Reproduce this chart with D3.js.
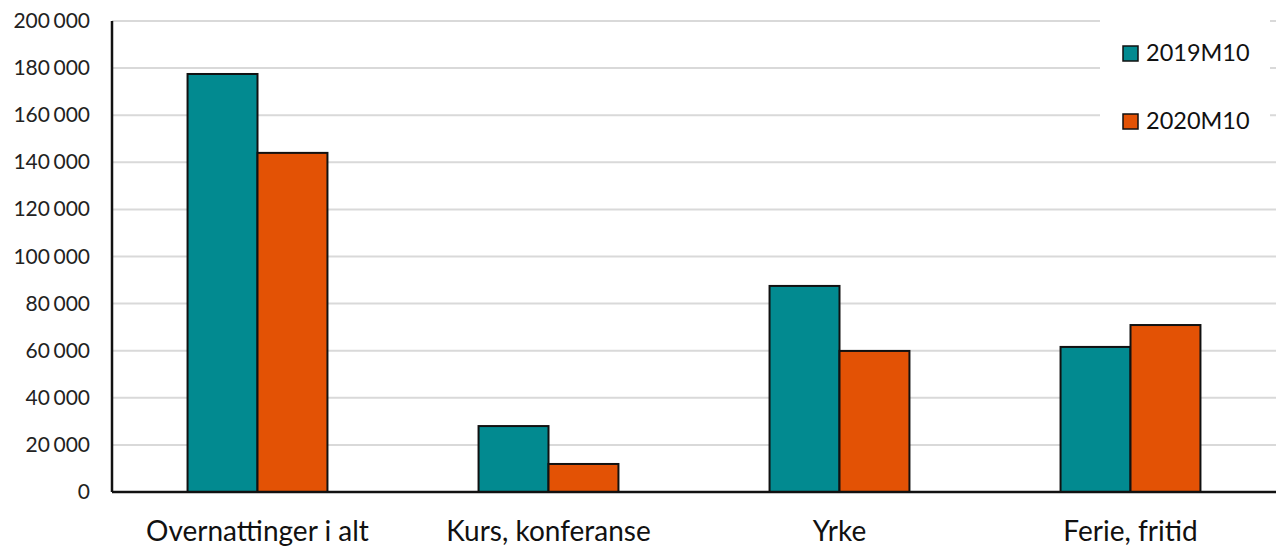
<!DOCTYPE html>
<html lang="no">
<head>
<meta charset="UTF-8">
<title>Overnattinger</title>
<style>
  body { margin:0; background:#fff; }
  svg { display:block; font-family:Lato, "Open Sans", sans-serif; }
  .grid line { stroke:#d9d9d9; stroke-width:2; }
</style>
</head>
<body>
<svg id="chart" width="1281" height="555"></svg>
<script src="https://d3js.org/d3.v7.min.js"></script>
<script>
// data
var categories = ['Overnattinger i alt', 'Kurs, konferanse', 'Yrke', 'Ferie, fritid'];
var series = ['2019M10', '2020M10'];
var values2019 = [177500, 28000, 87500, 61600];
var values2020 = [144000, 11900, 59900, 70900];
var colors = ['#028a90', '#e35205'];
var yTicks = [0, 20000, 40000, 60000, 80000, 100000, 120000, 140000, 160000, 180000, 200000];

var svg = d3.select('#chart');
var mLeft = 112, mRight = 1276, mTop = 21, mBottom = 492;

var x = d3.scaleBand().domain(categories).range([mLeft, mRight]);
var xs = d3.scaleBand().domain(series).range([0, x.bandwidth()]).paddingOuter(1.08);
var y = d3.scaleLinear().domain([0, 200000]).range([mBottom, mTop]);

var fmt = function(d){ return d3.format(',')(d).replace(/,/g, '\u2006'); };

// gridlines
svg.append('g').attr('class', 'grid')
  .selectAll('line').data(yTicks.slice(1)).enter().append('line')
  .attr('x1', mLeft).attr('x2', mRight)
  .attr('y1', d => y(d)).attr('y2', d => y(d));

// y tick labels
svg.append('g').selectAll('text').data(yTicks).enter().append('text')
  .attr('x', 90).attr('y', d => y(d) + 7)
  .attr('text-anchor', 'end')
  .style('font-size', '21px').style('fill', '#222')
  .text(d => fmt(d));

// bars
var rows = categories.map((c, i) => ({cat: c, vals: [values2019[i], values2020[i]]}));
var groups = svg.append('g').selectAll('g').data(rows).enter().append('g')
  .attr('transform', d => 'translate(' + x(d.cat) + ',0)');
groups.selectAll('rect').data(d => d.vals.map((v, j) => ({s: series[j], v: v, j: j})))
  .enter().append('rect')
  .attr('x', d => xs(d.s)).attr('width', xs.bandwidth())
  .attr('y', d => y(d.v)).attr('height', d => y(0) - y(d.v))
  .attr('fill', d => colors[d.j])
  .attr('stroke', '#111').attr('stroke-width', 2);

// axes lines
svg.append('line').attr('x1', mLeft).attr('x2', mLeft).attr('y1', mTop).attr('y2', mBottom)
  .attr('stroke', '#111').attr('stroke-width', 2.5);
svg.append('line').attr('x1', mLeft).attr('x2', mRight).attr('y1', mBottom).attr('y2', mBottom)
  .attr('stroke', '#111').attr('stroke-width', 2.5);

// category labels
svg.append('g').selectAll('text').data(categories).enter().append('text')
  .attr('x', d => x(d) + x.bandwidth() / 2).attr('y', 541)
  .attr('text-anchor', 'middle')
  .style('font-size', '28px').style('fill', '#111')
  .text(d => d);

// legend
svg.append('rect').attr('x', 1100).attr('y', 0).attr('width', 170).attr('height', 150).attr('fill', '#fff');
var leg = svg.append('g').selectAll('g').data(series).enter().append('g')
  .attr('transform', (d, i) => 'translate(1123,' + (46 + i * 68) + ')');
leg.append('rect').attr('width', 15).attr('height', 15)
  .attr('fill', (d, i) => colors[i]).attr('stroke', '#111').attr('stroke-width', 1.5);
leg.append('text').attr('x', 23).attr('y', 15)
  .style('font-size', '23.5px').style('fill', '#111')
  .text(d => d);
</script>
</body>
</html>
